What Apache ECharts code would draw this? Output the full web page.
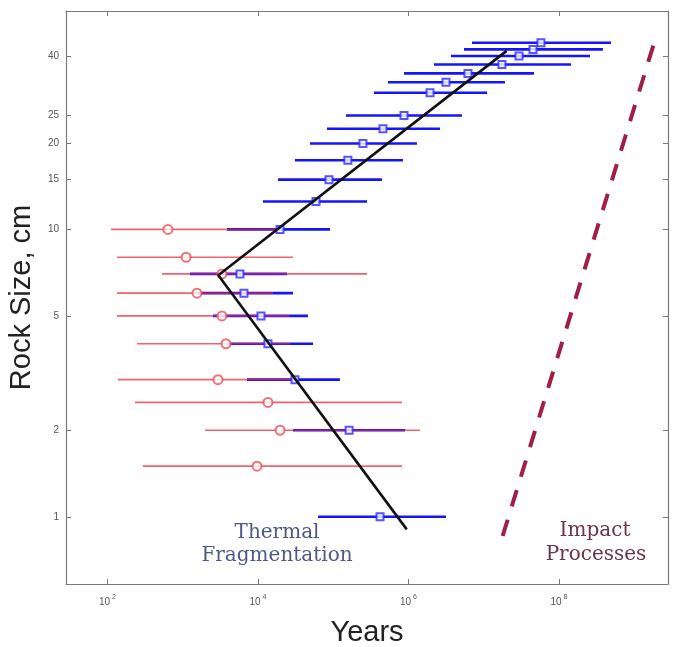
<!DOCTYPE html>
<html>
<head>
<meta charset="utf-8">
<script src="https://cdn.jsdelivr.net/npm/echarts@6/dist/echarts.min.js"></script>
<style>
  html, body { margin: 0; padding: 0; background: #fff; }
  #chart { width: 691px; height: 647px; }
</style>
</head>
<body>
<div id="chart"></div>
<script>
// 蓝色数据（方块 + 横向误差棒），年份为实际值
var blueSize = [44.6, 42.3, 40.1, 37.5, 34.9, 32.5, 29.9, 24.9, 22.4, 19.9, 17.4, 14.9, 12.5, 10, 7, 6, 5, 4, 3, 2, 1]
var blueLow  = [7.0e6, 5.48e6, 3.68e6, 2.19e6, 8.75e5, 5.36e5, 3.49e5, 1.48e5, 8.28e4, 4.93e4, 3.11e4, 1.85e4, 1.17e4, 3.89e3, 1.25e3, 1.55e3, 2.53e3, 4.01e3, 7.16e3, 2.93e4, 6.30e4]
var blueMid  = [5.78e7, 4.53e7, 2.95e7, 1.75e7, 6.19e6, 3.16e6, 1.94e6, 8.75e5, 4.60e5, 2.49e5, 1.57e5, 8.81e4, 5.92e4, 1.97e4, 5.78e3, 6.53e3, 1.10e4, 1.36e4, 3.11e4, 1.63e5, 4.20e5]
var blueHigh = [4.93e8, 3.85e8, 2.59e8, 1.45e8, 4.67e7, 1.92e7, 1.11e7, 5.15e6, 2.63e6, 1.30e6, 8.47e5, 4.46e5, 2.82e5, 9.08e4, 2.44e4, 2.93e4, 4.63e4, 5.40e4, 1.23e5, 9.02e5, 3.16e6]

// 红色数据（圆圈 + 横向误差棒）
var redSize = [10, 8, 7, 6, 5, 4, 3, 2.5, 2, 1.5]
var redLow  = [112, 134, 532, 134, 134, 248, 138, 233, 1.98e3, 297]
var redMid  = [638, 1.11e3, 3.33e3, 1.55e3, 3.33e3, 3.77e3, 2.95e3, 1.36e4, 1.97e4, 9.73e3]
var redHigh = [1.79e4, 2.93e4, 2.82e5, 1.59e4, 2.67e4, 2.67e4, 3.63e4, 8.22e5, 1.43e6, 8.22e5]

// 黑色折线（热破碎拟合）
var fitYears = [2.02e7, 2.98e3, 9.51e5]
var fitSize  = [41.8, 6.93, 0.904]

// 红色虚线（撞击过程）
var impactYears = [1.79e7, 1.80e9]
var impactSize  = [0.857, 43.7]

// 刻度
var xTickExp = [2, 4, 6, 8]
var yTicks = [1, 2, 5, 10, 15, 20, 25, 40]

var lg = Math.log10

function barData(low, mid, high, size) {
  return size.map(function (s, i) { return [lg(low[i]), lg(s), lg(high[i])] })
}
function pointData(xs, ys) {
  return ys.map(function (s, i) { return [lg(xs[i]), lg(s)] })
}

function errorBar(color, width, opacity) {
  return function (params, api) {
    var y = api.value(1)
    var p1 = api.coord([api.value(0), y])
    var p2 = api.coord([api.value(2), y])
    return {
      type: 'line',
      shape: { x1: p1[0], y1: p1[1], x2: p2[0], y2: p2[1] },
      style: { stroke: color, lineWidth: width, opacity: opacity }
    }
  }
}

var boxLine = { show: true, onZero: false, lineStyle: { color: '#7a7a7a', width: 1.2 } }
var xMin = 1.45, xMax = 9.45
var yMin = -0.234, yMax = 1.76
var yTickVals = yTicks.map(lg)

var chart = echarts.init(document.getElementById('chart'))
chart.setOption({
  animation: false,
  grid: { left: 66, right: 23, top: 11, bottom: 63, outerBoundsMode: 'none' },
  xAxis: [
    {
      type: 'value', min: xMin, max: xMax, position: 'bottom',
      axisLine: boxLine,
      splitLine: { show: false },
      axisTick: { inside: true, length: 5, customValues: xTickExp, lineStyle: { color: '#7a7a7a' } },
      axisLabel: {
        customValues: xTickExp, margin: 10,
        formatter: function (v) { return '{b|10}{s|' + v + '}' },
        rich: {
          b: { fontSize: 10, color: '#555', fontFamily: 'Liberation Sans', verticalAlign: 'bottom' },
          s: { fontSize: 7, color: '#555', fontFamily: 'Liberation Sans', verticalAlign: 'bottom', padding: [0, 0, 6, 2] }
        }
      },
      name: 'Years', nameLocation: 'middle', nameGap: 34,
      nameTextStyle: { fontSize: 29, color: '#222', fontFamily: 'Liberation Sans' }
    },
    {
      type: 'value', min: xMin, max: xMax, position: 'top',
      axisLine: boxLine, splitLine: { show: false },
      axisTick: { inside: true, length: 5, customValues: xTickExp, lineStyle: { color: '#7a7a7a' } },
      axisLabel: { show: false }
    }
  ],
  yAxis: [
    {
      type: 'value', min: yMin, max: yMax, position: 'left',
      axisLine: boxLine, splitLine: { show: false },
      axisTick: { inside: true, length: 5, customValues: yTickVals, lineStyle: { color: '#7a7a7a' } },
      axisLabel: {
        customValues: yTickVals, margin: 7, fontSize: 10, color: '#555', fontFamily: 'Liberation Sans',
        formatter: function (v) { return String(Math.round(Math.pow(10, v))) }
      },
      name: 'Rock Size, cm', nameLocation: 'middle', nameGap: 28,
      nameTextStyle: { fontSize: 29, color: '#222', fontFamily: 'Liberation Sans' }
    },
    {
      type: 'value', min: yMin, max: yMax, position: 'right',
      axisLine: boxLine, splitLine: { show: false },
      axisTick: { inside: true, length: 5, customValues: yTickVals, lineStyle: { color: '#7a7a7a' } },
      axisLabel: { show: false }
    }
  ],
  series: [
    {
      type: 'custom', renderItem: errorBar('#1414ff', 2.6, 1),
      encode: { x: [0, 2], y: 1 }, data: barData(blueLow, blueMid, blueHigh, blueSize)
    },
    {
      type: 'custom', renderItem: errorBar('#f01e32', 1.6, 0.7),
      encode: { x: [0, 2], y: 1 }, data: barData(redLow, redMid, redHigh, redSize)
    },
    {
      type: 'scatter', symbol: 'emptyRect', symbolSize: 7,
      itemStyle: { color: '#2a2aff', borderWidth: 1.2, opacity: 0.8 },
      data: pointData(blueMid, blueSize)
    },
    {
      type: 'scatter', symbol: 'emptyCircle', symbolSize: 9,
      itemStyle: { color: '#e8505a', borderWidth: 1.1, opacity: 0.8 },
      data: pointData(redMid, redSize)
    },
    {
      type: 'line', symbol: 'none', data: pointData(fitYears, fitSize),
      lineStyle: { color: '#111', width: 2.6 }
    },
    {
      type: 'line', symbol: 'none', data: pointData(impactYears, impactSize),
      lineStyle: { color: '#9e2145', width: 4, type: [17, 14] }
    }
  ],
  graphic: [
    { type: 'text', position: [277, 533], style: { text: 'Thermal', align: 'center', verticalAlign: 'middle', font: '20px "DejaVu Serif"', fill: '#4d5a86' } },
    { type: 'text', position: [277, 556], style: { text: 'Fragmentation', align: 'center', verticalAlign: 'middle', font: '20px "DejaVu Serif"', fill: '#4d5a86' } },
    { type: 'text', position: [595, 531], style: { text: 'Impact', align: 'center', verticalAlign: 'middle', font: '20px "DejaVu Serif"', fill: '#6a3546' } },
    { type: 'text', position: [596, 555], style: { text: 'Processes', align: 'center', verticalAlign: 'middle', font: '20px "DejaVu Serif"', fill: '#6a3546' } }
  ]
})
</script>
</body>
</html>
